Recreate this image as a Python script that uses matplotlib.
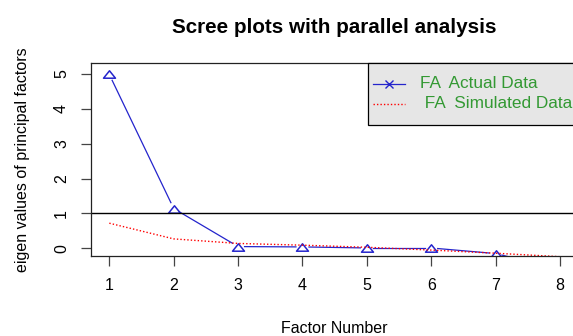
import matplotlib
matplotlib.use("Agg")
import matplotlib.pyplot as plt
import numpy as np
from matplotlib.path import Path
from matplotlib.patches import Rectangle
from matplotlib.lines import Line2D

plt.rcParams["font.family"] = ["Liberation Sans", "DejaVu Sans"]

factors = [1, 2, 3, 4, 5, 6, 7, 8]
fa_actual = [4.98, 1.14, 0.05, 0.04, 0.01, 0.01, -0.15, -0.60]
fa_simulated = [0.72, 0.27, 0.14, 0.09, 0.03, -0.05, -0.14, -0.24]
x_ticks = [1, 2, 3, 4, 5, 6, 7, 8]
y_ticks = [0, 1, 2, 3, 4, 5]
legend_labels = ["FA  Actual Data", " FA  Simulated Data"]

W, H = 573, 336
fig = plt.figure(figsize=(W / 100, H / 100), dpi=100)
# plot region in pixels: left 91, right 578 (cut off), top 63, bottom 256
L, R, T, B = 91.3, 578.0, 63.3, 256.0
ax = fig.add_axes([L / W, 1 - B / H, (R - L) / W, (B - T) / H])
ax.set_xlim(0.72, 8.28)
ax.set_ylim(-0.22, 5.30)


def axpos(px, py):
    # pixel position -> axes fraction
    return (px - L) / (R - L), (B - py) / (B - T)


# squat open triangle like R's pch=2
tri = Path([(0, 0.62), (-1, -0.62), (1, -0.62), (0, 0.62)],
           [Path.MOVETO, Path.LINETO, Path.LINETO, Path.CLOSEPOLY])

blue = "#2424cc"

# R type="b": line segments stop short of the points
gap = 6.5
tr = ax.transData
pts = tr.transform(np.column_stack([factors, fa_actual]))
for p0, p1 in zip(pts[:-1], pts[1:]):
    d = p1 - p0
    n = np.hypot(*d)
    if n <= 2 * gap:
        continue
    u = d / n
    a = tr.inverted().transform(p0 + u * gap)
    b = tr.inverted().transform(p1 - u * gap)
    ax.plot([a[0], b[0]], [a[1], b[1]], color=blue, lw=0.9)
ax.plot(factors, fa_actual, linestyle="none", marker=tri, markersize=8.6,
        markerfacecolor="none", markeredgecolor=blue, markeredgewidth=1.1)

ax.plot(factors, fa_simulated, color="red", lw=1.0, linestyle=(0, (1.0, 1.5)))
ax.axhline(1, color="black", lw=1.0)

ax.set_xticks(x_ticks)
ax.set_yticks(y_ticks)
ax.tick_params(direction="out", length=7, width=0.9, color="#444444",
               labelsize=11.5, pad=9)
for lab in ax.get_yticklabels():
    lab.set_rotation(90)
    lab.set_va("center")
for s in ax.spines.values():
    s.set_linewidth(0.9)
    s.set_color("#222222")

ax.set_title("Scree plots with parallel analysis", fontsize=14.9,
             fontweight="bold", pad=22)
ax.set_xlabel("Factor Number", fontsize=11.5, labelpad=20)
ax.set_ylabel("eigen values of principal factors", fontsize=11.5, labelpad=17)

# legend box drawn as in R's legend(): grey box, green text
x0, y0 = axpos(368, 125)
x1, y1 = axpos(620, 63.3)
ax.add_patch(Rectangle((x0, y0), x1 - x0, y1 - y0, transform=ax.transAxes,
                       facecolor="#e6e6e6", edgecolor="black", lw=0.9,
                       clip_on=False, zorder=5))
rows = [83.5, 103.5]
styles = [dict(color=blue, lw=0.9, marker="x", markersize=6, markevery=[1]),
          dict(color="red", lw=1.0, linestyle=(0, (1.0, 1.5)))]
for py, lab, st in zip(rows, legend_labels, styles):
    ha, va = axpos(373, py)
    hb, _ = axpos(405, py)
    hm, _ = axpos(389, py)
    ax.add_line(Line2D([ha, hm, hb], [va, va, va], transform=ax.transAxes,
                       clip_on=False, zorder=6, **st))
    tx, _ = axpos(420, py)
    ax.text(tx, va, lab, transform=ax.transAxes, color="#339933",
            fontsize=12.4, va="center", ha="left", zorder=6)

fig.savefig("out.png", dpi=100)
